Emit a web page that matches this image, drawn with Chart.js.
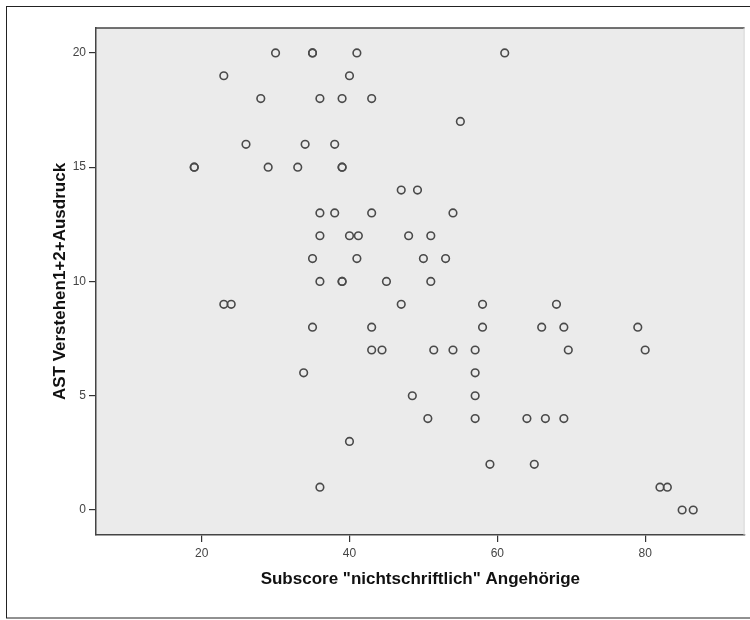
<!DOCTYPE html>
<html>
<head>
<meta charset="utf-8">
<script src="https://cdn.jsdelivr.net/npm/chart.js@4/dist/chart.umd.min.js"></script>
<style>
  html, body { margin: 0; padding: 0; background: #ffffff; }
  #wrap { position: relative; width: 750px; height: 620px; }
</style>
</head>
<body>
<div id="wrap"><canvas id="c" width="750" height="620"></canvas></div>
<script>
// Data
const subscoreX = [
  30, 35, 35, 41, 61,
  23, 40,
  28, 36, 39, 43,
  55,
  26, 34, 38,
  19, 19, 29, 33, 39, 39,
  47, 49.2,
  36, 38, 43, 54,
  36, 40, 41.2, 48, 51,
  35, 41, 50, 53,
  36, 39, 39, 45, 51,
  23, 24, 47, 58, 68,
  35, 43, 58, 66, 69, 79,
  43, 44.4, 51.4, 54, 57, 69.6, 80,
  33.8, 57,
  48.5, 57,
  50.6, 57, 64, 66.5, 69,
  40,
  59, 65,
  36, 82, 83,
  85, 86.5
];
const astY = [
  20, 20, 20, 20, 20,
  19, 19,
  18, 18, 18, 18,
  17,
  16, 16, 16,
  15, 15, 15, 15, 15, 15,
  14, 14,
  13, 13, 13, 13,
  12, 12, 12, 12, 12,
  11, 11, 11, 11,
  10, 10, 10, 10, 10,
  9, 9, 9, 9, 9,
  8, 8, 8, 8, 8, 8,
  7, 7, 7, 7, 7, 7, 7,
  6, 6,
  5, 5,
  4, 4, 4, 4, 4,
  3,
  2, 2,
  1, 1, 1,
  0, 0
];
const xTickValues = [20, 40, 60, 80];
const yTickValues = [0, 5, 10, 15, 20];
const xTitle = 'Subscore "nichtschriftlich" Angehörige';
const yTitle = 'AST Verstehen1+2+Ausdruck';

const points = subscoreX.map((x, i) => ({ x: x, y: astY[i] }));

const plotFrame = {
  id: 'plotFrame',
  beforeDraw(chart) {
    const { ctx, chartArea: a } = chart;
    ctx.save();
    ctx.fillStyle = '#ffffff';
    ctx.fillRect(0, 0, chart.width, chart.height);
    // outer frame
    ctx.strokeStyle = '#222222';
    ctx.lineWidth = 1;
    ctx.strokeRect(6.5, 6.5, 760, 611.5);
    // plot background
    ctx.fillStyle = '#ebebeb';
    ctx.fillRect(a.left, a.top, a.right - a.left, a.bottom - a.top);
    ctx.restore();
  },
  afterDatasetsDraw(chart) {
    const { ctx, chartArea: a } = chart;
    ctx.save();
    ctx.strokeStyle = '#444444';
    ctx.lineWidth = 1.5;
    ctx.beginPath();
    ctx.moveTo(a.left, a.top);
    ctx.lineTo(a.right, a.top);
    ctx.stroke();
    ctx.strokeStyle = '#d8d8d8';
    ctx.lineWidth = 1;
    ctx.beginPath();
    ctx.moveTo(a.right - 0.5, a.top);
    ctx.lineTo(a.right - 0.5, a.bottom);
    ctx.stroke();
    ctx.restore();
  }
};

new Chart(document.getElementById('c'), {
  type: 'scatter',
  data: {
    datasets: [{
      data: points,
      pointStyle: 'circle',
      pointRadius: 3.8,
      pointHoverRadius: 3.8,
      pointBorderWidth: 1.6,
      pointBorderColor: '#4a4a4a',
      pointBackgroundColor: 'rgba(0,0,0,0)'
    }]
  },
  options: {
    responsive: false,
    animation: false,
    events: [],
    layout: { padding: { top: 28, right: 3, left: 0, bottom: 0 } },
    plugins: { legend: { display: false }, tooltip: { enabled: false } },
    scales: {
      x: {
        type: 'linear',
        min: 5.71,
        max: 93.45,
        afterFit(scale) { scale.height = 85; },
        afterBuildTicks(scale) { scale.ticks = xTickValues.map(v => ({ value: v })); },
        grid: { display: true, drawOnChartArea: false, drawTicks: true, tickLength: 7, color: '#333333', lineWidth: 1.2 },
        border: { display: true, color: '#444444', width: 1.5 },
        ticks: {
          padding: 4,
          maxRotation: 0,
          color: '#444444',
          font: { family: 'Liberation Sans, Arial, sans-serif', size: 12 }
        },
        title: {
          display: true,
          text: xTitle,
          color: '#111111',
          font: { family: 'Liberation Sans, Arial, sans-serif', size: 17, weight: 'bold' },
          padding: { top: 0, bottom: 30 }
        }
      },
      y: {
        type: 'linear',
        min: -1.094,
        max: 21.09,
        afterFit(scale) { scale.width = 96; },
        afterBuildTicks(scale) { scale.ticks = yTickValues.map(v => ({ value: v })); },
        grid: { display: true, drawOnChartArea: false, drawTicks: true, tickLength: 7, color: '#333333', lineWidth: 1.2 },
        border: { display: true, color: '#444444', width: 1.5 },
        ticks: {
          padding: 3,
          color: '#444444',
          font: { family: 'Liberation Sans, Arial, sans-serif', size: 12 }
        },
        title: {
          display: true,
          text: yTitle,
          color: '#111111',
          font: { family: 'Liberation Sans, Arial, sans-serif', size: 17, weight: 'bold' },
          padding: { top: 50, bottom: 0 }
        }
      }
    }
  },
  plugins: [plotFrame]
});
</script>
</body>
</html>
